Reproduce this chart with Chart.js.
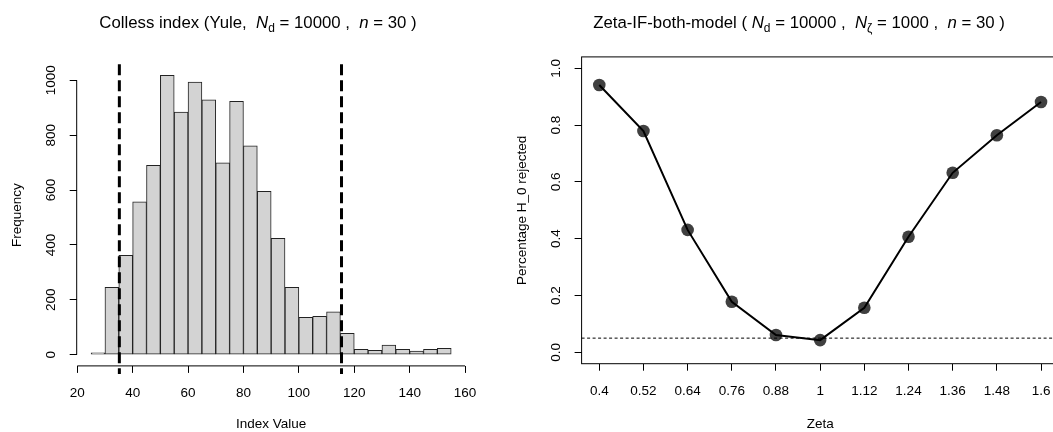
<!DOCTYPE html>
<html>
<head>
<meta charset="utf-8">
<script src="https://cdn.jsdelivr.net/npm/chart.js@4.4.1/dist/chart.umd.min.js"></script>
<style>
  html, body { margin: 0; padding: 0; background: #fff; overflow: hidden; }
  #wrap { position: relative; width: 1053px; height: 432px; overflow: hidden; }
  #left { position: absolute; left: 0; top: 0; }
  #right { position: absolute; left: 500px; top: 0; }
</style>
</head>
<body>
<div id="wrap">
  <canvas id="left" width="500" height="432"></canvas>
  <canvas id="right" width="580" height="432"></canvas>
</div>
<script>
// left: Colless index histogram (bin width 5)
const binMids = [27.5, 32.5, 37.5, 42.5, 47.5, 52.5, 57.5, 62.5, 67.5, 72.5, 77.5, 82.5, 87.5,
  92.5, 97.5, 102.5, 107.5, 112.5, 117.5, 122.5, 127.5, 132.5, 137.5, 142.5, 147.5, 152.5];
const counts = [7, 246, 362, 557, 690, 1018, 884, 994, 929, 699, 923, 761, 595,
  424, 246, 136, 140, 156, 78, 20, 16, 35, 20, 13, 20, 23];
const indexTicks = [20, 40, 60, 80, 100, 120, 140, 160];
const freqTicks = [0, 200, 400, 600, 800, 1000];
const cutoffs = [35.2, 115.4];

// right: rejection rate vs zeta
const zeta = [0.4, 0.52, 0.64, 0.76, 0.88, 1, 1.12, 1.24, 1.36, 1.48, 1.6];
const rejected = [0.941, 0.779, 0.431, 0.178, 0.061, 0.043, 0.157, 0.407, 0.632, 0.764, 0.881];
const rejTicks = [0, 0.2, 0.4, 0.6, 0.8, 1.0];
const alphaLevel = 0.05;

const FONT = "'Liberation Sans', Arial, sans-serif";
const AXIS_SIZE = 13.5;
Chart.defaults.font.family = FONT;
Chart.defaults.color = "#000";
Chart.defaults.animation = false;

// title with italic symbols and subscripts
function drawTitle(ctx, cx, y, parts) {
  const size = 16.8;
  const fontOf = (p) => (p.it ? "italic " : "") + (p.sub ? 12 : size) + "px " + FONT;
  let total = 0;
  parts.forEach((p) => { ctx.font = fontOf(p); total += ctx.measureText(p.t).width; });
  let x = cx - total / 2;
  ctx.save();
  ctx.fillStyle = "#000";
  ctx.textAlign = "left";
  ctx.textBaseline = "alphabetic";
  parts.forEach((p) => {
    ctx.font = fontOf(p);
    ctx.fillText(p.t, x, p.sub ? y + 4 : y);
    x += ctx.measureText(p.t).width;
  });
  ctx.restore();
}

function drawYText(chart, ticks, fmt, title) {
  const { ctx, chartArea } = chart;
  const y = chart.scales.y;
  ctx.save();
  ctx.fillStyle = "#000";
  ctx.textAlign = "center";
  ctx.textBaseline = "middle";
  ctx.font = AXIS_SIZE + "px " + FONT;
  ticks.forEach((v) => {
    ctx.save();
    ctx.translate(chartArea.left - 25, y.getPixelForValue(v));
    ctx.rotate(-Math.PI / 2);
    ctx.fillText(fmt(v), 0, 0);
    ctx.restore();
  });
  ctx.translate(chartArea.left - 59, (chartArea.top + chartArea.bottom) / 2);
  ctx.rotate(-Math.PI / 2);
  ctx.fillText(title, 0, 0);
  ctx.restore();
}

const histExtras = {
  id: "histExtras",
  afterDatasetsDraw(chart) {
    const { ctx, chartArea } = chart;
    const x = chart.scales.x, y = chart.scales.y;
    ctx.save();
    ctx.strokeStyle = "#000";
    ctx.lineWidth = 3;
    ctx.setLineDash([11, 5]);
    cutoffs.forEach((c) => {
      const px = x.getPixelForValue(c);
      ctx.beginPath();
      ctx.moveTo(px, chartArea.top);
      ctx.lineTo(px, chartArea.bottom + 8);
      ctx.stroke();
    });
    ctx.setLineDash([]);
    ctx.lineWidth = 1;
    ctx.beginPath();
    ctx.moveTo(chartArea.left, y.getPixelForValue(freqTicks[0]));
    ctx.lineTo(chartArea.left, y.getPixelForValue(freqTicks[freqTicks.length - 1]));
    ctx.moveTo(x.getPixelForValue(indexTicks[0]), chartArea.bottom);
    ctx.lineTo(x.getPixelForValue(indexTicks[indexTicks.length - 1]), chartArea.bottom);
    ctx.stroke();
    ctx.restore();
  },
  afterDraw(chart) {
    drawYText(chart, freqTicks, (v) => String(v), "Frequency");
    drawTitle(chart.ctx, 258, 28, [
      { t: "Colless index (Yule,  " }, { t: "N", it: true }, { t: "d", sub: true },
      { t: " = 10000 ,  " }, { t: "n", it: true }, { t: " = 30 )" }
    ]);
  }
};

new Chart(document.getElementById("left"), {
  type: "bar",
  data: {
    datasets: [{
      data: binMids.map((m, i) => ({ x: m, y: counts[i] })),
      backgroundColor: "#d3d3d3",
      borderColor: "#222",
      borderWidth: 1,
      borderSkipped: false,
      barPercentage: 1,
      categoryPercentage: 1
    }]
  },
  options: {
    responsive: false,
    layout: { padding: { top: 64.2, right: 34.4, left: 0, bottom: 0 } },
    plugins: { legend: { display: false }, tooltip: { enabled: false } },
    scales: {
      x: {
        type: "linear",
        offset: false,
        min: 19.8, max: 160.2,
        afterBuildTicks: (s) => { s.ticks = indexTicks.map((v) => ({ value: v })); },
        afterFit: (s) => { s.height = 66.1; },
        ticks: { font: { size: AXIS_SIZE }, padding: 12, maxRotation: 0, autoSkip: false },
        grid: { offset: false, drawOnChartArea: false, drawTicks: true, tickLength: 7, color: "#000" },
        border: { display: false },
        title: { display: true, text: "Index Value", font: { size: AXIS_SIZE }, padding: 0 }
      },
      y: {
        min: -40.7, max: 1058.7,
        afterBuildTicks: (s) => { s.ticks = freqTicks.map((v) => ({ value: v })); },
        afterFit: (s) => { s.width = 76.7; },
        ticks: { display: false },
        grid: { drawOnChartArea: false, drawTicks: true, tickLength: 7, color: "#000" },
        border: { display: false }
      }
    }
  },
  plugins: [histExtras]
});

const zetaExtras = {
  id: "zetaExtras",
  afterDraw(chart) {
    const { ctx, chartArea } = chart;
    const y = chart.scales.y;
    ctx.save();
    ctx.strokeStyle = "#000";
    ctx.lineWidth = 1;
    ctx.setLineDash([3, 2.5]);
    const py = y.getPixelForValue(alphaLevel);
    ctx.beginPath();
    ctx.moveTo(chartArea.left, py);
    ctx.lineTo(chartArea.right, py);
    ctx.stroke();
    ctx.setLineDash([]);
    ctx.strokeRect(chartArea.left, chartArea.top, chartArea.right - chartArea.left, chartArea.bottom - chartArea.top);
    ctx.restore();
    drawYText(chart, rejTicks, (v) => v.toFixed(1), "Percentage H_0 rejected");
    drawTitle(ctx, 299, 28, [
      { t: "Zeta-IF-both-model ( " }, { t: "N", it: true }, { t: "d", sub: true },
      { t: " = 10000 ,  " }, { t: "N", it: true }, { t: "\u03B6", sub: true },
      { t: " = 1000 ,  " }, { t: "n", it: true }, { t: " = 30 )" }
    ]);
  }
};

const zetaPoints = zeta.map((z, i) => ({ x: z, y: rejected[i] }));
new Chart(document.getElementById("right"), {
  type: "line",
  data: {
    datasets: [
      { data: zetaPoints, borderColor: "#000", borderWidth: 2, pointRadius: 0, fill: false, tension: 0 },
      { data: zetaPoints, showLine: false, pointRadius: 6.3, pointBackgroundColor: "#404040",
        pointBorderWidth: 0, pointBorderColor: "#404040" }
    ]
  },
  options: {
    responsive: false,
    layout: { padding: { top: 56.9, right: 21.3, left: 0, bottom: 0 } },
    plugins: { legend: { display: false }, tooltip: { enabled: false } },
    scales: {
      x: {
        type: "linear",
        min: 0.352, max: 1.648,
        afterBuildTicks: (s) => { s.ticks = zeta.map((v) => ({ value: v })); },
        afterFit: (s) => { s.height = 68.3; },
        ticks: { font: { size: AXIS_SIZE }, padding: 12, maxRotation: 0, autoSkip: false,
          callback: (v) => String(+v.toFixed(2)) },
        grid: { drawOnChartArea: false, drawTicks: true, tickLength: 7, color: "#000" },
        border: { display: false },
        title: { display: true, text: "Zeta", font: { size: AXIS_SIZE }, padding: 0 }
      },
      y: {
        min: -0.04, max: 1.04,
        afterBuildTicks: (s) => { s.ticks = rejTicks.map((v) => ({ value: v })); },
        afterFit: (s) => { s.width = 81.6; },
        ticks: { display: false },
        grid: { drawOnChartArea: false, drawTicks: true, tickLength: 7, color: "#000" },
        border: { display: false }
      }
    }
  },
  plugins: [zetaExtras]
});
</script>
</body>
</html>
